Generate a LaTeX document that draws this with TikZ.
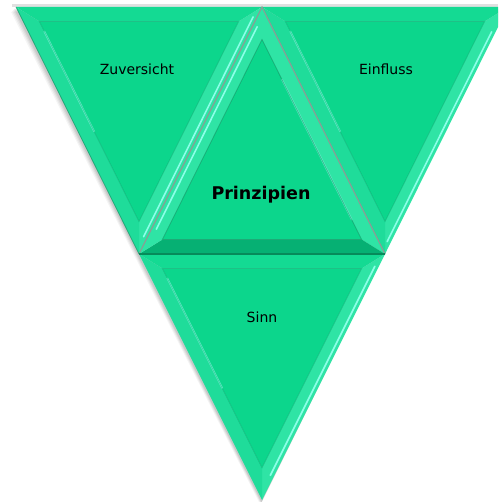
\documentclass[tikz,border=0pt]{standalone}
\usepackage{fontspec}
\setmainfont{DejaVu Sans}
\usetikzlibrary{calc}
\definecolor{face}{HTML}{0CD68C}
\definecolor{bevtop}{HTML}{14DA93}
\definecolor{bevlight}{HTML}{2FE4A5}
\definecolor{bevmid}{HTML}{1FDC9A}
\definecolor{bevdark}{HTML}{06B073}
\definecolor{hilite}{HTML}{8CFFE8}
\definecolor{edgegray}{HTML}{8E9A94}
\definecolor{edgedark}{HTML}{078A5A}
\tikzset{
  lbl/.style={font=\fontsize{14}{16}\selectfont, text=black, inner sep=0pt},
  blbl/.style={font=\fontsize{17.5}{20}\selectfont\bfseries, text=black, inner sep=0pt},
  hl/.style={draw=hilite, line width=1.6pt, line cap=round},
  sep/.style={draw=edgegray, line width=1.1pt}
}
% #1,#2,#3 vertices, #4 incentre, #5 prefix, #6 #7 #8 colours of sides 12,23,31
\newcommand{\bevtri}[8]{%
  \coordinate (#5a) at ($(#4)!0.81!(#1)$);
  \coordinate (#5b) at ($(#4)!0.81!(#2)$);
  \coordinate (#5c) at ($(#4)!0.81!(#3)$);
  \fill[#6] (#1) -- (#2) -- (#5b) -- (#5a) -- cycle;
  \fill[#7] (#2) -- (#3) -- (#5c) -- (#5b) -- cycle;
  \fill[#8] (#3) -- (#1) -- (#5a) -- (#5c) -- cycle;
  \fill[face] (#5a) -- (#5b) -- (#5c) -- cycle;
}
\begin{document}
\begin{tikzpicture}[x=1pt,y=-1pt]
\useasboundingbox (0,0) rectangle (498,502);
\fill[white] (0,0) rectangle (498,502);
\clip (0,0) rectangle (498,502);
\coordinate (A) at (16,7);
\coordinate (B) at (262,7);
\coordinate (C) at (508,7);
\coordinate (D) at (139,254);
\coordinate (E) at (385,254);
\coordinate (F) at (262,500);
\coordinate (IL) at (139,83);
\coordinate (IR) at (385,83);
\coordinate (IM) at (262,178);
\coordinate (IS) at (262,330);
% soft shadow
\foreach \o/\op in {5/0.04,4/0.05,3/0.06,2/0.08}{
  \fill[black, opacity=\op] ($(A)+(-\o,\o)$) -- ($(C)+(-\o,\o)$) -- ($(F)+(-\o*0.3,\o)$) -- cycle;
}
\fill[black!12] (12,4) rectangle (498,7);
% left inverted
\bevtri{A}{B}{D}{IL}{l}{bevtop}{bevlight}{bevmid}
% right inverted
\bevtri{B}{C}{E}{IR}{r}{bevtop}{bevlight}{bevmid}
% bottom inverted
\bevtri{D}{E}{F}{IS}{s}{bevtop}{bevlight}{bevmid}
% centre upright
\bevtri{B}{E}{D}{IM}{m}{bevlight}{bevdark}{bevlight}
% highlights
\draw[hl] ($(B)!0.04!(D)+(-4,0)$) -- ($(B)!0.93!(D)+(-4,0)$);
\draw[hl, opacity=0.7] ($(la)!0.05!(lc)$) -- ($(la)!0.55!(lc)$);
\draw[hl] ($(C)!0.1!(E)+(-4,0)$) -- ($(C)!0.95!(E)+(-4,0)$);
\draw[hl, opacity=0.7] ($(ra)!0.05!(rc)$) -- ($(ra)!0.55!(rc)$);
\draw[hl] ($(E)!0.05!(F)+(-4,0)$) -- ($(E)!0.9!(F)+(-4,0)$);
\draw[hl, opacity=0.7] ($(sa)!0.05!(sc)$) -- ($(sa)!0.6!(sc)$);
\draw[hl] ($(B)!0.08!(D)+(5,0)$) -- ($(B)!0.9!(D)+(5,0)$);
\draw[hl, opacity=0.6] ($(mb)!0.1!(ma)$) -- ($(mb)!0.8!(ma)$);
% inner edge shading lines
\draw[edgedark, line width=0.8pt, opacity=0.5] (ma) -- (mb) -- (mc) -- cycle;
\draw[bevdark, line width=0.8pt, opacity=0.5] (la) -- (lb) -- (lc) -- cycle;
\draw[bevdark, line width=0.8pt, opacity=0.5] (ra) -- (rb) -- (rc) -- cycle;
\draw[bevdark, line width=0.8pt, opacity=0.5] (sa) -- (sb) -- (sc) -- cycle;
% separators
\draw[sep] (D) -- (B) -- (E);
\draw[edgedark, line width=1.4pt] (D) -- (E);
\draw[edgedark, line width=0.8pt, opacity=0.6] (A) -- (D);
% labels
\node[lbl] (zuv) at (137,69) {Zuversicht};
\node[lbl] (ein) at (386,69) {Einfluss};
\node[blbl] (pri) at (261,195) {Prinzipien};
\node[lbl] (sin) at (262,317) {Sinn};
\end{tikzpicture}
\end{document}
